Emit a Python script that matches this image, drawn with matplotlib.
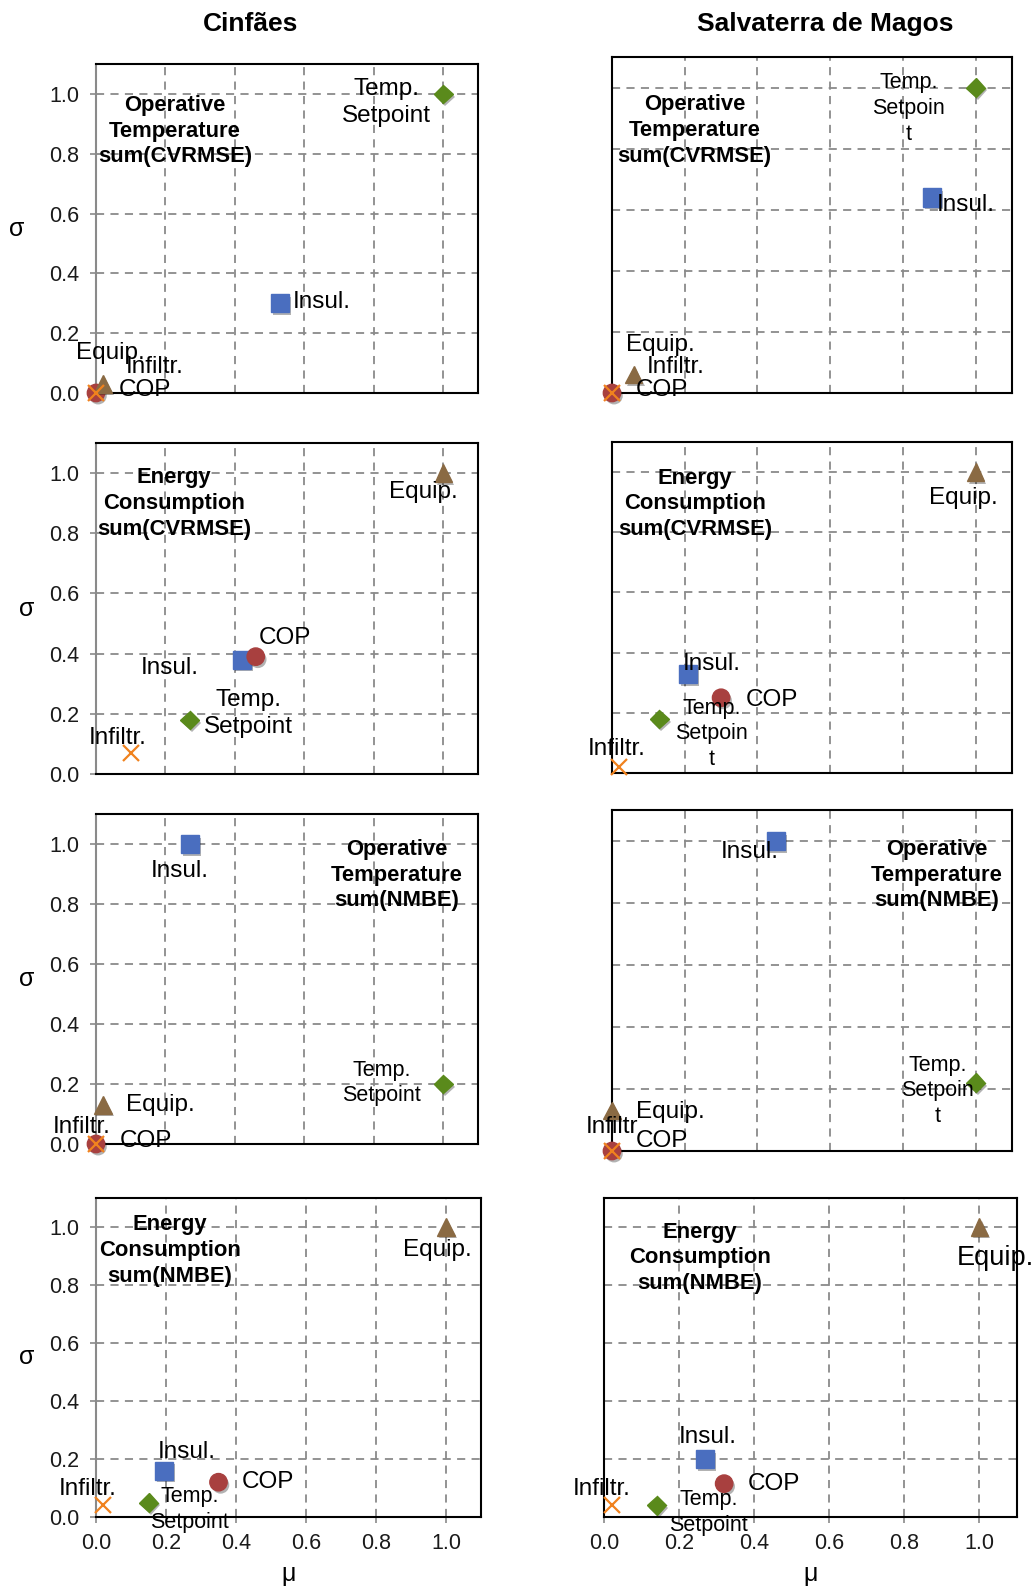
import matplotlib
matplotlib.use("Agg")
import matplotlib.pyplot as plt
import matplotlib.patheffects as pe

plt.rcParams['font.family'] = ['Liberation Sans', 'DejaVu Sans']

# factor order used in every panel below
factors = ["Insul.", "COP", "Temp. Setpoint", "Equip.", "Infiltr."]
sites = ["Cinfães", "Salvaterra de Magos"]
ticks = [0.0, 0.2, 0.4, 0.6, 0.8, 1.0]

# Cinfães
cin_ot_cvrmse_mu = [0.53, 0.0, 1.0, 0.02, 0.0]
cin_ot_cvrmse_sigma = [0.30, 0.0, 1.0, 0.03, 0.0]
cin_ec_cvrmse_mu = [0.42, 0.46, 0.27, 1.0, 0.10]
cin_ec_cvrmse_sigma = [0.38, 0.39, 0.18, 1.0, 0.07]
cin_ot_nmbe_mu = [0.27, 0.0, 1.0, 0.02, 0.0]
cin_ot_nmbe_sigma = [1.0, 0.0, 0.20, 0.13, 0.0]
cin_ec_nmbe_mu = [0.195, 0.35, 0.15, 1.0, 0.02]
cin_ec_nmbe_sigma = [0.16, 0.12, 0.05, 1.0, 0.04]

# Salvaterra de Magos
sal_ot_cvrmse_mu = [0.88, 0.0, 1.0, 0.06, 0.0]
sal_ot_cvrmse_sigma = [0.64, 0.0, 1.0, 0.06, 0.0]
sal_ec_cvrmse_mu = [0.21, 0.30, 0.13, 1.0, 0.02]
sal_ec_cvrmse_sigma = [0.33, 0.25, 0.18, 1.0, 0.02]
sal_ot_nmbe_mu = [0.45, 0.0, 1.0, 0.0, 0.0]
sal_ot_nmbe_sigma = [1.0, 0.0, 0.22, 0.13, 0.0]
sal_ec_nmbe_mu = [0.27, 0.32, 0.14, 1.0, 0.02]
sal_ec_nmbe_sigma = [0.20, 0.115, 0.04, 1.0, 0.04]

# marker style per factor
styles = {
    "Insul.": dict(marker='s', ms=13, color='#4a6ebf'),
    "COP": dict(marker='o', ms=12.5, color='#a8403f'),
    "Temp. Setpoint": dict(marker='D', ms=9.5, color='#5a8a1b'),
    "Equip.": dict(marker='^', ms=12.5, color='#8a6a43'),
    "Infiltr.": dict(marker='x', ms=11, color='#f0821e', mew=1.6),
}

W, H = 1032, 1589
fig = plt.figure(figsize=(W / 100, H / 100), dpi=100)

# panel layout: pixel box, caption, caption pos, label offsets (px) per factor
panels = [
    dict(box=(96, 64, 478, 393), mu=cin_ot_cvrmse_mu, sig=cin_ot_cvrmse_sigma,
         cap="Operative\nTemperature\nsum(CVRMSE)", cpos=(0.207, 0.796),
         off=[(42, 1), (49, 3), (-57, -9), (7, 31), (59, 26)], col=0, row=0,
         fs={"Temp. Setpoint": 17.5}),
    dict(box=(96, 443, 478, 774), mu=cin_ec_cvrmse_mu, sig=cin_ec_cvrmse_sigma,
         cap="Energy\nConsumption\nsum(CVRMSE)", cpos=(0.204, 0.817),
         off=[(-72, -8), (29, 19), (59, 6), (-20, -19), (-13, 15)], col=0, row=1,
         fs={"Temp. Setpoint": 17.5}),
    dict(box=(96, 814, 478, 1144), mu=cin_ot_nmbe_mu, sig=cin_ot_nmbe_sigma,
         cap="Operative\nTemperature\nsum(NMBE)", cpos=(0.787, 0.815),
         off=[(-10, -27), (50, 3), (-62, 1), (57, 0), (-14, 17)], col=0, row=2),
    dict(box=(96, 1198, 481, 1517), mu=cin_ec_nmbe_mu, sig=cin_ec_nmbe_sigma,
         cap="Energy\nConsumption\nsum(NMBE)", cpos=(0.192, 0.835),
         off=[(23, 19), (49, 0), (41, -7), (-9, -23), (-15, 16)], col=0, row=3),
    dict(box=(612, 57, 1012, 393), mu=sal_ot_cvrmse_mu, sig=sal_ot_cvrmse_sigma,
         cap="Operative\nTemperature\nsum(CVRMSE)", cpos=(0.206, 0.781),
         off=[(34, -7), (50, 3), (-67, -21), (27, 30), (64, 26)], col=1, row=0,
         names={"Temp. Setpoint": "Temp.\nSetpoin\nt"}),
    dict(box=(612, 442, 1012, 773), mu=sal_ec_cvrmse_mu, sig=sal_ec_cvrmse_sigma,
         cap="Energy\nConsumption\nsum(CVRMSE)", cpos=(0.2075, 0.813),
         off=[(23, 10), (51, -2), (52, -15), (-12, -26), (-3, 18)], col=1, row=1,
         names={"Temp. Setpoint": "Temp.\nSetpoin\nt"}),
    dict(box=(612, 810, 1012, 1151), mu=sal_ot_nmbe_mu, sig=sal_ot_nmbe_sigma,
         cap="Operative\nTemperature\nsum(NMBE)", cpos=(0.812, 0.809),
         off=[(-26, -11), (50, 10), (-38, -8), (58, -1), (0, 24)], col=1, row=2,
         names={"Temp. Setpoint": "Temp.\nSetpoin\nt", "Infiltr.": "Infiltr"}),
    dict(box=(604, 1198, 1017, 1517), mu=sal_ec_nmbe_mu, sig=sal_ec_nmbe_sigma,
         cap="Energy\nConsumption\nsum(NMBE)", cpos=(0.232, 0.8125),
         off=[(2, 22), (50, 0), (52, -7), (16, -31), (-10, 16)], col=1, row=3,
         fs={"Equip.": 19.5}),
]

shadow = [pe.SimplePatchShadow(offset=(1.5, -2), alpha=0.3, shadow_rgbFace='k'), pe.Normal()]
grey = '#8a8a8a'

for p in panels:
    l, t, r, b = p['box']
    ax = fig.add_axes([l / W, 1 - b / H, (r - l) / W, (b - t) / H])
    ax.set_xlim(0, 1.1)
    ax.set_ylim(0, 1.1)
    ax.set_xticks(ticks)
    ax.set_yticks(ticks)
    ax.set_xticklabels([f"{v:.1f}" for v in ticks])
    ax.set_yticklabels([f"{v:.1f}" for v in ticks])
    ax.set_axisbelow(True)
    ax.grid(True, color=grey, ls=(0, (4.5, 3.5)), lw=1.3)
    for s in ax.spines.values():
        s.set_linewidth(1.5)
        s.set_color('black')
    if p['col'] == 0:
        ax.spines['left'].set_color(grey)
    ax.tick_params(direction='out', length=4.3, width=1.2, color=grey,
                   labelsize=15.5, labelcolor='#1a1a1a')
    ax.tick_params(axis='y', pad=8)
    ax.tick_params(axis='x', pad=7)
    if p['col'] == 0:
        ax.set_ylabel("σ", fontsize=18, rotation=0, va='center', ha='center')
        ax.yaxis.set_label_coords(-0.207 if p['row'] == 0 else -0.181, 0.5)
    else:
        ax.tick_params(axis='y', left=False, labelleft=False)
    if p['row'] == 3:
        ax.set_xlabel("μ", fontsize=18, va='center')
        ax.xaxis.set_label_coords(0.5, -0.178)
    else:
        ax.tick_params(axis='x', bottom=False, labelbottom=False)

    names = p.get('names', {})
    sizes = p.get('fs', {})
    for i, f in enumerate(factors):
        st = styles[f]
        ax.plot(p['mu'][i], p['sig'][i], ls='none', marker=st['marker'], ms=st['ms'],
                color=st['color'], mec=st['color'], mew=st.get('mew', 1.0),
                clip_on=False, zorder=3 + i,
                path_effects=shadow if f != "Infiltr." else None)
        dx, dy = p['off'][i]
        txt = names.get(f, "Temp.\nSetpoint" if f == "Temp. Setpoint" else f)
        fs = sizes.get(f, 15.5 if f == "Temp. Setpoint" else 17.5)
        ax.annotate(txt, (p['mu'][i], p['sig'][i]), xytext=(dx * 0.72, dy * 0.72),
                    textcoords='offset points', ha='center', va='center',
                    fontsize=fs, linespacing=1.3, zorder=10, annotation_clip=False)

    ax.text(p['cpos'][0], p['cpos'][1], p['cap'], transform=ax.transAxes,
            ha='center', va='center', fontsize=15.8, fontweight='bold',
            linespacing=1.3, zorder=10)

fig.text(251 / W, 1 - 24 / H, sites[0], ha='center', va='center',
         fontsize=19, fontweight='bold')
fig.text(825 / W, 1 - 24 / H, sites[1], ha='center', va='center',
         fontsize=19, fontweight='bold')

fig.savefig("out.png", dpi=100)
